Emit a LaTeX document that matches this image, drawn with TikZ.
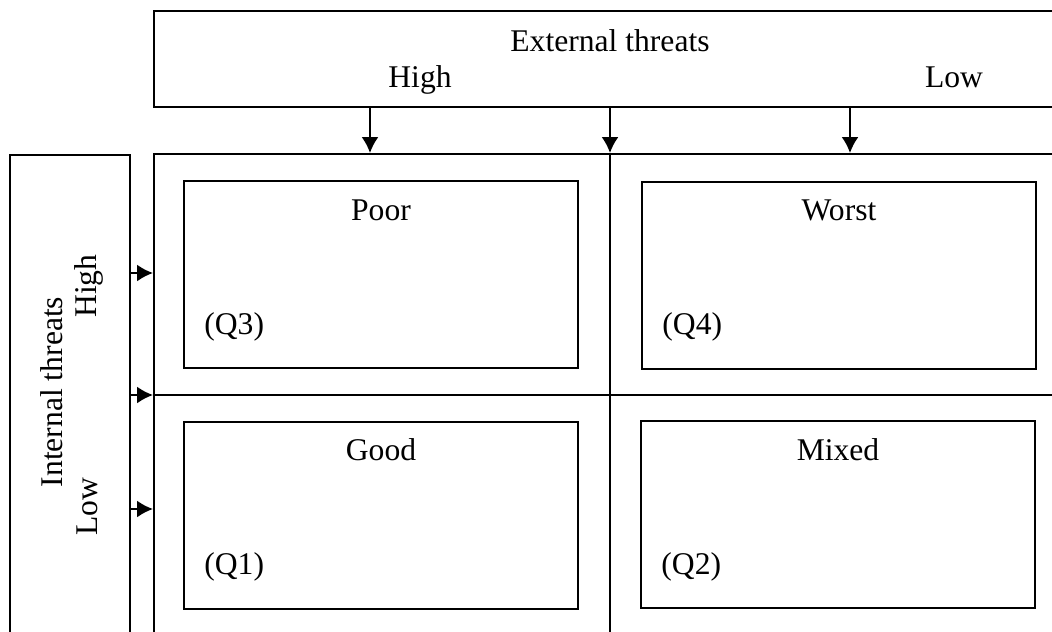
\documentclass[tikz,border=0pt]{standalone}
\usepackage{fontspec}
\setmainfont{Liberation Serif}
\usetikzlibrary{arrows.meta, positioning}
\tikzset{>={Latex[length=8pt,width=8.5pt]}}
\tikzset{
  frame/.style={draw, line width=1pt, inner sep=0pt},
  quad/.style={draw, line width=1pt, minimum width=197pt, minimum height=93.5pt, inner sep=0pt},
  lbl/.style={font=\fontsize{15.8}{18}\selectfont, inner sep=0pt, anchor=base},
}

\begin{document}
\begin{tikzpicture}[x=0.5pt, y=-0.5pt]
    \clip(0, 0)rectangle(1052, 631);
    % outer frames
    \node[frame, minimum width=454pt, minimum height=48pt](ext)at(608, 59){};
    \node[frame, minimum width=60pt, minimum height=242.5pt](int)at(70, 397.5){};
    \node[frame, minimum width=454pt, minimum height=243pt](grid)at(608, 397){};
    \coordinate(mid)at(610, 395);
    \draw[line width=0.8pt](grid.north -| mid)--(grid.south -| mid);
    \draw[line width=0.8pt](grid.west |- mid)--(grid.east |- mid);
    % axis labels
    \node[lbl](extt)at(610, 52){External threats};
    \node[lbl](exthi)at(420, 88){High};
    \node[lbl](extlo)at(954, 88){Low};
    \node[lbl, rotate=90](intt)at(62, 392){Internal threats};
    \node[lbl, rotate=90](inthi)at(96, 286){High};
    \node[lbl, rotate=90](intlo)at(97, 507){Low};
    % arrows
    \coordinate(a1)at(370, 0);
    \coordinate(a3)at(850, 0);
    \coordinate(b1)at(0, 273);
    \coordinate(b3)at(0, 509);
    \draw[line width=1pt, ->](ext.south -| a1)--(grid.north -| a1);
    \draw[line width=1pt, ->](ext.south -| mid)--(grid.north -| mid);
    \draw[line width=1pt, ->](ext.south -| a3)--(grid.north -| a3);
    \draw[line width=1pt, ->](int.east |- b1)--(grid.west |- b1);
    \draw[line width=1pt, ->](int.east |- mid)--(grid.west |- mid);
    \draw[line width=1pt, ->](int.east |- b3)--(grid.west |- b3);
    % quadrants
    \node[quad](q3)at(381, 274.5){};
    \node[quad](q4)at(839, 275){};
    \node[quad](q1)at(381, 515){};
    \node[quad](q2)at(838, 514.5){};
    \foreach \q/\t in {q3/Poor, q4/Worst, q1/Good, q2/Mixed}{
        \node[lbl](\q t)at([yshift=-20pt]\q.north){\t};
    }
    \foreach \q/\n in {q3/Q3, q4/Q4, q1/Q1, q2/Q2}{
        \node[lbl, anchor=base west](\q n)at([shift={(10.5pt, -77pt)}]\q.north west){(\n)};
    }
\end{tikzpicture}
\end{document}
